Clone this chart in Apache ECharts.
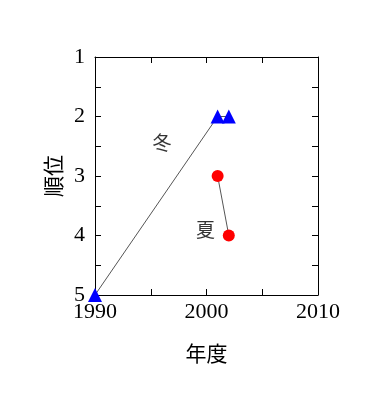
<!DOCTYPE html>
<html><head><meta charset="utf-8">
<script src="https://cdn.jsdelivr.net/npm/echarts@6/dist/echarts.min.js"></script>
<style>html,body{margin:0;padding:0;background:#fff}#c{width:380px;height:408px}</style>
</head><body><div id="c"></div>
<script>
const winterYears = [1990, 2001, 2002];
const winterRanks = [5, 2, 2];
const summerYears = [2001, 2002];
const summerRanks = [3, 4];
const xTicks = [1990, 2000, 2010];
const yTicks = [1, 2, 3, 4, 5];
const labelTexts = ['冬', '夏'];
const labelYears = [1996, 1999.9];
const labelRanks = [2.45, 3.9];

const serif = '"Liberation Serif","Times New Roman",serif';
const cjk = '"Noto Sans CJK JP","Noto Sans CJK SC",sans-serif';
const chart = echarts.init(document.getElementById('c'), null, {renderer:'canvas'});
const axisCommon = {
  axisLine:{show:true,lineStyle:{color:'#000',width:1}},
  axisTick:{show:true,inside:true,length:6,lineStyle:{color:'#000'}},
  minorTick:{show:true,splitNumber:2,length:6,lineStyle:{color:'#000'}},
  splitLine:{show:false}
};
chart.setOption({
  animation:false,
  grid:{left:95,right:62,top:57,bottom:113},
  xAxis:[
    Object.assign({type:'value',min:xTicks[0],max:xTicks[xTicks.length-1],interval:10,
      name:'年度',nameLocation:'middle',nameGap:48,
      nameTextStyle:{fontFamily:cjk,fontSize:21,color:'#000'},
      axisLabel:{fontFamily:serif,fontSize:22,color:'#000',margin:6,formatter:v=>String(v)}}, axisCommon),
    Object.assign({type:'value',position:'top',min:xTicks[0],max:xTicks[xTicks.length-1],interval:10,
      axisLabel:{show:false}}, axisCommon)
  ],
  yAxis:[
    Object.assign({type:'value',inverse:true,min:yTicks[0],max:yTicks[yTicks.length-1],interval:1,
      name:'順位',nameLocation:'middle',nameGap:30,nameRotate:90,
      nameTextStyle:{fontFamily:cjk,fontSize:21,color:'#000'},
      axisLabel:{fontFamily:serif,fontSize:22,color:'#000',margin:10,formatter:v=>String(v)}}, axisCommon),
    Object.assign({type:'value',position:'right',inverse:true,min:yTicks[0],max:yTicks[yTicks.length-1],interval:1,
      axisLabel:{show:false}}, axisCommon)
  ],
  series:[
    {type:'line',data:winterYears.map((y,i)=>[y,winterRanks[i]]),
     symbol:'triangle',symbolSize:14,itemStyle:{color:'#0000ff'},
     lineStyle:{color:'#555',width:1},z:3},
    {type:'line',data:summerYears.map((y,i)=>[y,summerRanks[i]]),
     symbol:'circle',symbolSize:12,itemStyle:{color:'#ff0000'},
     lineStyle:{color:'#555',width:1},z:3},
    {type:'scatter',symbolSize:0,silent:true,
     data:labelYears.map((y,i)=>({value:[y,labelRanks[i]],label:{show:true,position:'inside',formatter:labelTexts[i],
       fontFamily:cjk,fontSize:19,color:'#000'}}))}
  ]
});
</script></body></html>
